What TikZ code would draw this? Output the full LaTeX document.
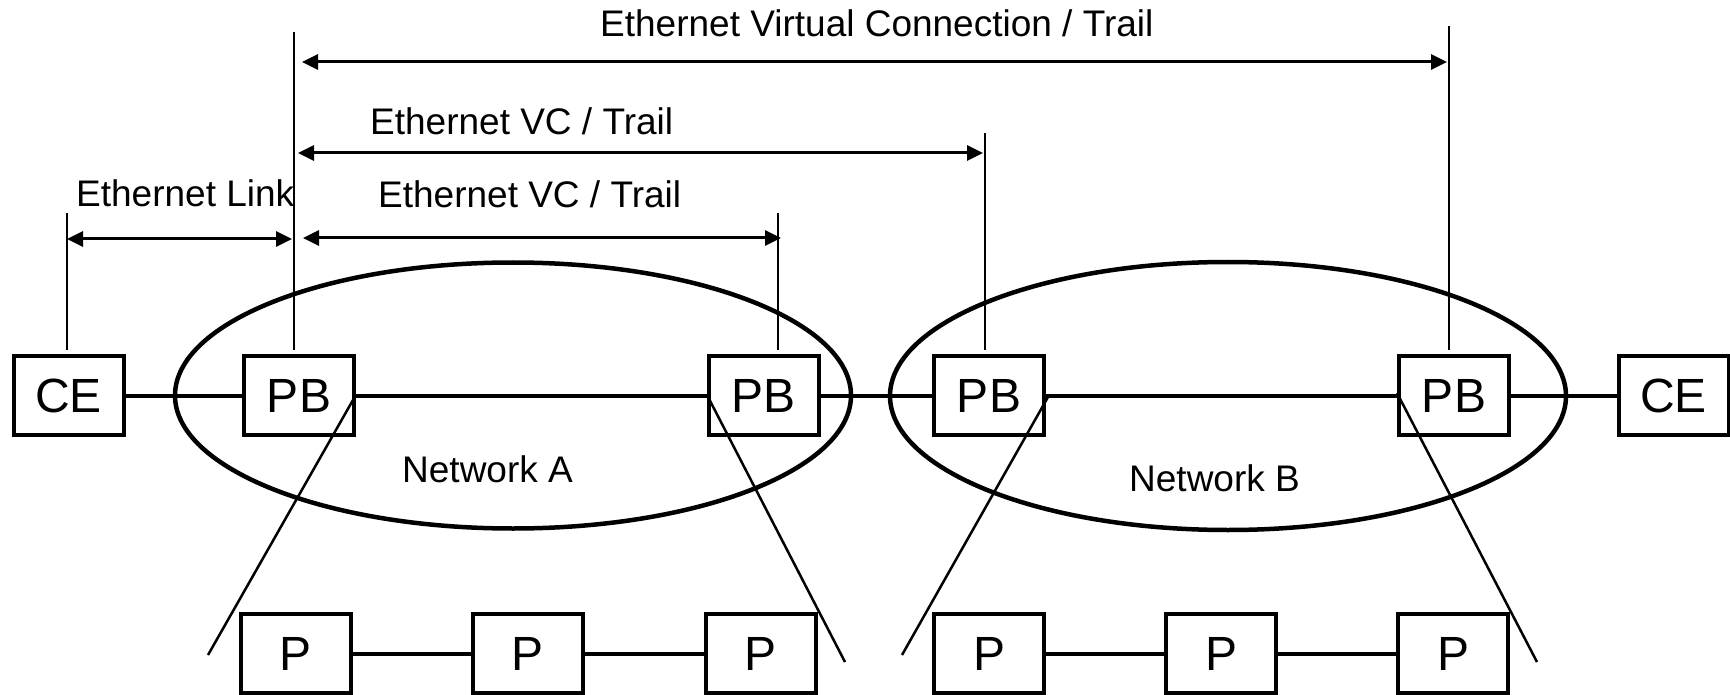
\documentclass[tikz,border=0pt]{standalone}
\usepackage{fontspec}
\setmainfont{Liberation Sans}
\usetikzlibrary{arrows.meta}
\begin{document}
\begin{tikzpicture}[x=1pt,y=-1pt,
  box/.style={draw, line width=4pt, minimum width=110pt, minimum height=79pt, inner sep=0pt, font=\fontsize{48}{56}\selectfont},
  conn/.style={line width=4pt},
  thinline/.style={line width=2.5pt},
  dim/.style={line width=3pt, {Triangle[length=16pt,width=15pt]}-{Triangle[length=16pt,width=15pt]}},
  lbl/.style={anchor=base west, inner sep=0pt, font=\fontsize{37}{44}\selectfont},
  net/.style={line width=4.5pt}]
\useasboundingbox (0,0) rectangle (1730,695);

% networks
\draw[net] (513,395.5) ellipse [x radius=338pt, y radius=133pt];
\draw[net] (1228,396) ellipse [x radius=338pt, y radius=134pt];

% main row
\node[box] (CE1) at (68.5,395.5) {CE};
\node[box] (PB1) at (299,395.5) {PB};
\node[box] (PB2) at (763.5,395.5) {PB};
\node[box] (PB3) at (989,395.5) {PB};
\node[box] (PB4) at (1454,395.5) {PB};
\node[box] (CE2) at (1673.5,395.5) {CE};

% bottom row
\node[box] (P1) at (296,653.5) {P};
\node[box] (P2) at (528,653.5) {P};
\node[box] (P3) at (760.5,653.5) {P};
\node[box] (P4) at (989,653.5) {P};
\node[box] (P5) at (1221,653.5) {P};
\node[box] (P6) at (1453,653.5) {P};

% connectors
\draw[conn] (CE1.east) -- (PB1.west);
\draw[conn] (PB1.east) -- (PB2.west);
\draw[conn] (PB2.east) -- (PB3.west);
\draw[conn] (PB3.east) -- (PB4.west);
\draw[conn] (PB4.east) -- (CE2.west);
\draw[conn] (P1.east) -- (P2.west);
\draw[conn] (P2.east) -- (P3.west);
\draw[conn] (P4.east) -- (P5.west);
\draw[conn] (P5.east) -- (P6.west);

% zoom-out lines
\coordinate (d1a) at (353,400); \coordinate (d1b) at (208,655);
\coordinate (d2a) at (707,395); \coordinate (d2b) at (845,662);
\coordinate (d3a) at (1048,397); \coordinate (d3b) at (902,655);
\coordinate (d4a) at (1397,393); \coordinate (d4b) at (1537,662);
\draw[thinline] (d1a) -- (d1b);
\draw[thinline] (d2a) -- (d2b);
\draw[thinline] (d3a) -- (d3b);
\draw[thinline] (d4a) -- (d4b);

% reference verticals
\coordinate (vCEb) at (67,350);   \coordinate (vCEt) at (67,213);
\coordinate (vP1b) at (294,350);  \coordinate (vP1t) at (294,32);
\coordinate (vP2b) at (778,350);  \coordinate (vP2t) at (778,213);
\coordinate (vP3b) at (985,350);  \coordinate (vP3t) at (985,133);
\coordinate (vP4b) at (1449,350); \coordinate (vP4t) at (1449,26);
\draw[thinline] (vCEb) -- (vCEt);
\draw[thinline] (vP1b) -- (vP1t);
\draw[thinline] (vP2b) -- (vP2t);
\draw[thinline] (vP3b) -- (vP3t);
\draw[thinline] (vP4b) -- (vP4t);

% dimension arrows
\coordinate (aLl) at (67,239);  \coordinate (aLr) at (292,239);
\coordinate (aIl) at (303,238); \coordinate (aIr) at (781,238);
\coordinate (aMl) at (298,153); \coordinate (aMr) at (983,153);
\coordinate (aTl) at (302,62);  \coordinate (aTr) at (1447,62);
\draw[dim] (aLl) -- (aLr);
\draw[dim] (aIl) -- (aIr);
\draw[dim] (aMl) -- (aMr);
\draw[dim] (aTl) -- (aTr);

% labels
\node[lbl] (tTop) at (600,37) {Ethernet Virtual Connection / Trail};
\node[lbl] (tMid) at (370,135) {Ethernet VC / Trail};
\node[lbl] (tIn) at (378,208) {Ethernet VC / Trail};
\node[lbl] (tLink) at (76,207) {Ethernet Link};
\node[lbl] (tA) at (402,482) {Network A};
\node[lbl] (tB) at (1129,491) {Network B};
\end{tikzpicture}
\end{document}
